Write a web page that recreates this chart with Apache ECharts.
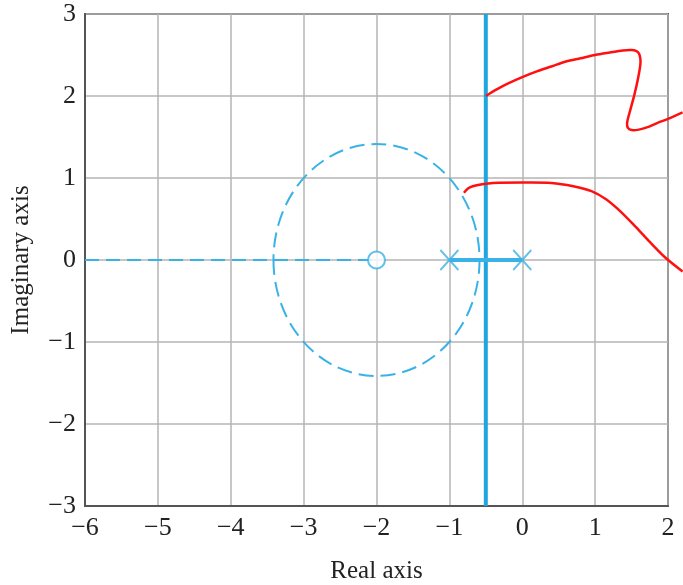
<!DOCTYPE html>
<html>
<head>
<meta charset="utf-8">
<script src="https://cdn.jsdelivr.net/npm/echarts@6/dist/echarts.min.js"></script>
<style>
  html, body { margin: 0; padding: 0; background: #ffffff; }
  #chart { width: 683px; height: 585px; }
</style>
</head>
<body>
<div id="chart"></div>
<script>
// Root locus on the s-plane: open-loop poles at 0 and -1, zero at -2.
const poles = [[-1, 0], [0, 0]];
const zeros = [[-2, 0]];
// Real-axis locus left of the zero (dashed)
const realAxisLocus = [[-6, 0], [-2, 0]];
// Break-away / break-in circle: centre x, centre y, radius
const breakCircle = [[-2, 0, 1.414]];
// Locus segment between the two poles
const poleSegment = [[-1, 0], [0, 0]];
// Vertical locus through -0.5
const verticalLocus = [[-0.5, -3], [-0.5, 3]];
// Red traced branches
const upperBranch = [
  [-0.5, 2.0], [-0.35, 2.08], [-0.2, 2.15], [0.0, 2.23], [0.2, 2.3], [0.4, 2.36],
  [0.6, 2.42], [0.8, 2.46], [1.0, 2.5], [1.2, 2.53], [1.38, 2.555], [1.5, 2.56],
  [1.56, 2.55], [1.6, 2.52], [1.62, 2.46], [1.62, 2.38], [1.59, 2.22], [1.54, 2.02],
  [1.48, 1.82], [1.44, 1.68], [1.45, 1.61], [1.5, 1.585], [1.6, 1.59], [1.72, 1.62],
  [1.85, 1.67], [2.0, 1.72], [2.2, 1.8]
];
const lowerBranch = [
  [-0.8, 0.82], [-0.75, 0.87], [-0.68, 0.9], [-0.55, 0.925], [-0.4, 0.94], [0, 0.945],
  [0.4, 0.94], [0.7, 0.9], [0.95, 0.84], [1.15, 0.74], [1.35, 0.59], [1.55, 0.41],
  [1.75, 0.22], [1.95, 0.04], [2.2, -0.14]
];
const xRange = [-6, 2];
const yRange = [-3, 3];

const blue = '#1fa6e0';
const blueLight = '#3ab2e6';
const red = '#ff1010';
const serif = '"Liberation Serif", "Times New Roman", serif';
const minus = v => String(v).replace('-', '\u2212');

// Draws a whole branch as one smooth polyline, mapped through the axes,
// without clipping to the plotting rectangle.
function branchSeries(points) {
  return {
    type: 'custom', data: points, clip: false, z: 5,
    encode: { x: 0, y: 1 },
    renderItem: function (params, api) {
      if (params.dataIndex !== 0) return null;
      return {
        type: 'polyline',
        shape: { points: points.map(p => api.coord(p)), smooth: 0.3 },
        style: { fill: 'none', stroke: red, lineWidth: 2.5 }
      };
    }
  };
}

const chart = echarts.init(document.getElementById('chart'));
chart.setOption({
  animation: false,
  backgroundColor: '#ffffff',
  grid: {
    left: 85, right: 15, top: 14, bottom: 79,
    containLabel: false, outerBoundsMode: 'none',
    show: true, borderColor: '#555555', borderWidth: 2
  },
  xAxis: {
    type: 'value', min: xRange[0], max: xRange[1], interval: 1,
    name: 'Real axis', nameLocation: 'middle', nameGap: 53,
    nameTextStyle: { fontFamily: serif, fontSize: 25, color: '#222' },
    axisLine: { show: true, onZero: false, lineStyle: { color: '#555555', width: 2 } },
    axisTick: { show: false },
    axisLabel: { formatter: minus, fontFamily: serif, fontSize: 26, color: '#222', margin: 9 },
    splitLine: { show: true, lineStyle: { color: '#b4b4b4', width: 1.5 } }
  },
  yAxis: {
    type: 'value', min: yRange[0], max: yRange[1], interval: 1,
    name: 'Imaginary axis', nameLocation: 'middle', nameGap: 51,
    nameTextStyle: { fontFamily: serif, fontSize: 25, color: '#222' },
    axisLine: { show: true, onZero: false, lineStyle: { color: '#555555', width: 2 } },
    axisTick: { show: false },
    axisLabel: { formatter: minus, fontFamily: serif, fontSize: 26, color: '#222', margin: 9 },
    splitLine: { show: true, lineStyle: { color: '#b4b4b4', width: 1.5 } }
  },
  series: [
    {
      type: 'line', data: realAxisLocus, symbol: 'none', z: 3,
      lineStyle: { color: blueLight, width: 2, type: [14, 7] }
    },
    {
      type: 'custom', data: breakCircle, z: 3, clip: false,
      encode: { x: 0, y: 1 },
      renderItem: function (params, api) {
        const c = api.coord([api.value(0), api.value(1)]);
        const s = api.size([api.value(2), api.value(2)]);
        return {
          type: 'path',
          shape: {
            pathData: 'M0,1A1,1 0 1,0 2,1A1,1 0 1,0 0,1Z',
            x: c[0] - s[0], y: c[1] - s[1], width: 2 * s[0], height: 2 * s[1],
            layout: 'cover'
          },
          style: { fill: 'none', stroke: blueLight, lineWidth: 2, lineDash: [15, 7] }
        };
      }
    },
    {
      type: 'line', data: verticalLocus, symbol: 'none', z: 4,
      lineStyle: { color: blue, width: 4 }
    },
    {
      type: 'line', data: poleSegment, symbol: 'none', z: 4,
      lineStyle: { color: blueLight, width: 4 }
    },
    {
      type: 'scatter', data: poles, z: 6,
      symbol: 'path://M0,0L18,20M18,0L0,20', symbolSize: [18, 20],
      itemStyle: { color: 'rgba(0,0,0,0)', borderColor: blueLight, borderWidth: 2 }
    },
    {
      type: 'scatter', data: zeros, z: 6,
      symbol: 'circle', symbolSize: 17,
      itemStyle: { color: '#ffffff', borderColor: blueLight, borderWidth: 2 }
    },
    branchSeries(upperBranch),
    branchSeries(lowerBranch)
  ]
});
</script>
</body>
</html>
